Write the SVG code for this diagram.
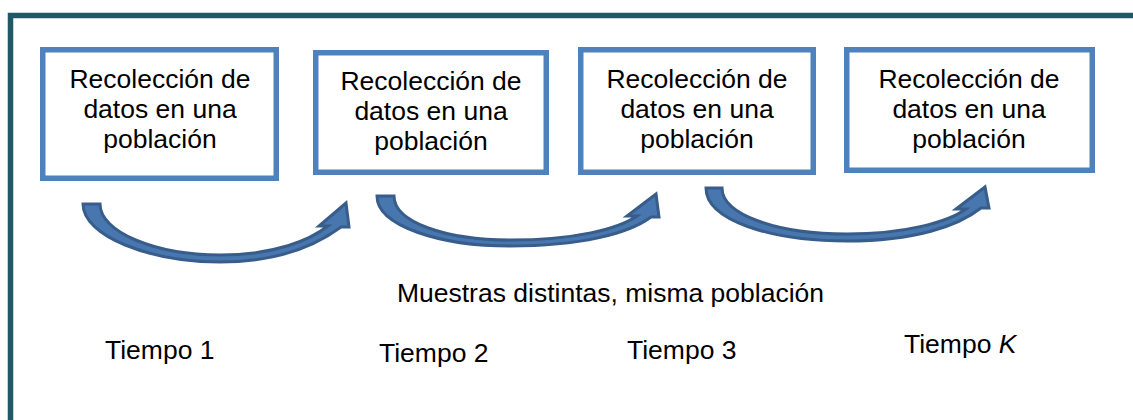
<svg xmlns="http://www.w3.org/2000/svg" width="1133" height="420" viewBox="0 0 1133 420">
  <style>
    .box { fill: #ffffff; stroke: #4f81bd; stroke-width: 5.5; }
    .t { font-family: "Liberation Sans", Arial, sans-serif; font-size: 26.5px; fill: #000000; text-anchor: middle; }
    .lbl { font-family: "Liberation Sans", Arial, sans-serif; font-size: 26.5px; fill: #000000; }
    .arrow { fill: #4777ae; stroke: #385d8a; stroke-width: 3; stroke-linejoin: miter; }
  </style>
  <rect width="1133" height="420" fill="#ffffff"/>
  <path d="M10.5,425 V15.5 H1140" fill="none" stroke="#215868" stroke-width="5.5"/>

  <g id="node1">
    <rect class="box" x="42.75" y="49.75" width="233.5" height="128.5"/>
    <text class="t" x="160" y="88"><tspan x="160">Recolección de</tspan><tspan x="160" dy="30">datos en una</tspan><tspan x="160" dy="30">población</tspan></text>
  </g>
  <g id="node2">
    <rect class="box" x="315.75" y="52.75" width="230.5" height="119.5"/>
    <text class="t" x="431" y="90"><tspan x="431">Recolección de</tspan><tspan x="431" dy="30">datos en una</tspan><tspan x="431" dy="30">población</tspan></text>
  </g>
  <g id="node3">
    <rect class="box" x="580.75" y="49.75" width="232.5" height="122.5"/>
    <text class="t" x="697" y="88"><tspan x="697">Recolección de</tspan><tspan x="697" dy="30">datos en una</tspan><tspan x="697" dy="30">población</tspan></text>
  </g>
  <g id="node4">
    <rect class="box" x="846.75" y="49.75" width="245.5" height="120.5"/>
    <text class="t" x="969" y="88"><tspan x="969">Recolección de</tspan><tspan x="969" dy="30">datos en una</tspan><tspan x="969" dy="30">población</tspan></text>
  </g>

  <g id="connectors">
    <path class="arrow" d="M83,204 C83,236 150,262 220,262 C280,262 318,244 341,227 L349,227 L346,203 L319,226 L328,226 C310,240 275,255 220,255 C155,255 100,232 100,204 Z"/>
    <path class="arrow" d="M377,196 C377,226 440,246 510,246 C580,246 628,234 651,217 L659,217 L656,194 L627,216 L637,216 C618,229 575,240 510,240 C445,240 394,222 394,196 Z"/>
    <path class="arrow" d="M706,188 C706,220 770,241 847,241 C915,241 958,226 981,208 L989,208 L985,187 L956,209 L966,209 C948,222 905,234 847,234 C775,234 722,214 722,188 Z"/>
  </g>

  <g id="labels">
    <text class="lbl" x="610.5" y="302" text-anchor="middle" font-size="27">Muestras distintas, misma población</text>
    <text class="lbl" x="105" y="359">Tiempo 1</text>
    <text class="lbl" x="379" y="362">Tiempo 2</text>
    <text class="lbl" x="627" y="359">Tiempo 3</text>
    <text class="lbl" x="904" y="353">Tiempo <tspan font-style="italic">K</tspan></text>
  </g>
</svg>
